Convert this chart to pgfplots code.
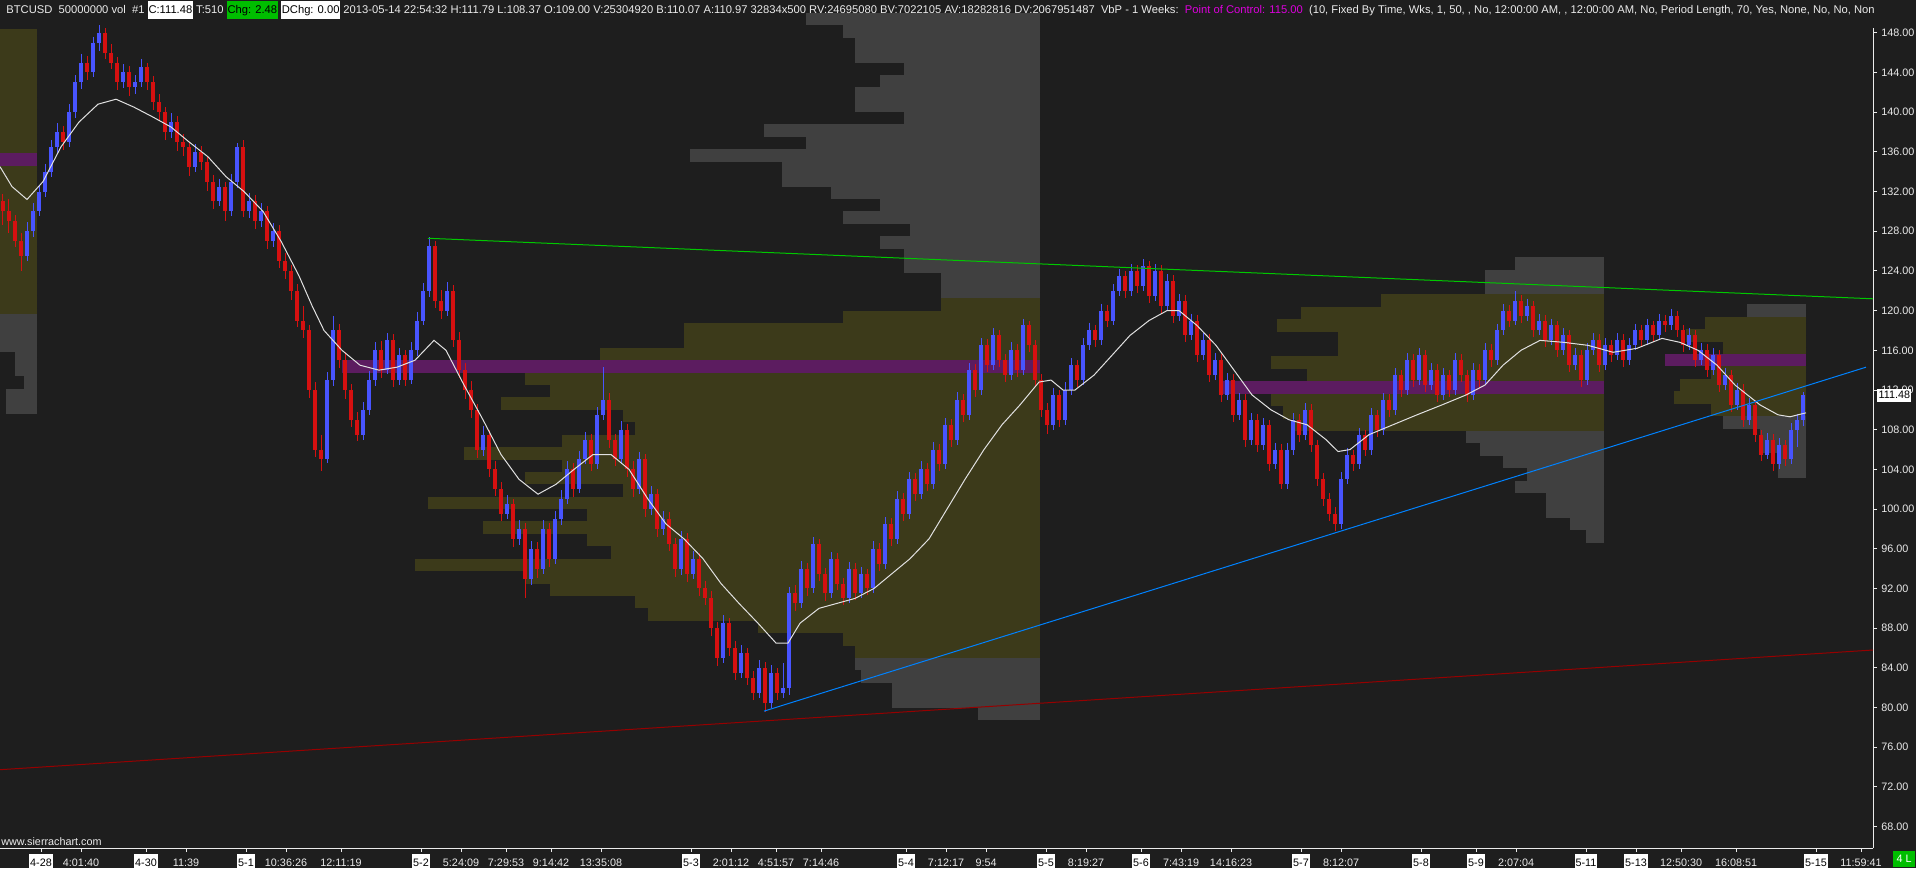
\documentclass[border=0pt]{standalone}
\usepackage{pgfplots}
\pgfplotsset{compat=1.18}
\usepackage{pgfplotstable}
\usepackage{fontspec}
\setmainfont{Liberation Sans}

\definecolor{bg}{RGB}{30,30,30}
\definecolor{vpgray}{RGB}{64,64,64}
\definecolor{vpolive}{RGB}{60,58,26}
\definecolor{vppoc}{RGB}{92,28,96}
\definecolor{candleup}{RGB}{72,84,255}
\definecolor{candledn}{RGB}{214,16,16}
\definecolor{trendgreen}{RGB}{0,200,0}
\definecolor{trendblue}{RGB}{0,130,255}
\definecolor{trendred}{RGB}{150,0,0}
\definecolor{txt}{RGB}{235,235,235}
\definecolor{poctxt}{RGB}{220,0,220}
\definecolor{chggreen}{RGB}{0,190,0}

% white box for dates on the time axis, boxes in the header line
\newcommand{\db}[1]{{\setlength{\fboxsep}{0.5pt}\colorbox{white}{\color{black}\rule[-1.6pt]{0pt}{7.2pt}#1}}}
\newcommand{\hb}[3]{{\setlength{\fboxsep}{0.4pt}\colorbox{#1}{\color{#2}\rule[-2.3pt]{0pt}{8.2pt}#3}}}

% error bars only, no marks at the data points
\pgfplotsset{bars only/.style={only marks, mark=*, mark size=0pt,
  mark options={draw=none, fill=none}}}

% bars: index, open, high, low, close  (x pixel = 3+6*i)
\pgfplotstableread{
i o h l c
0 131 131.8 128.6 130
1 130 131.2 127.8 129
2 129 129.6 126.4 127
3 127 127.8 124 125.5
4 125.5 128.9 125 128
5 128 130.8 127.4 130
6 130 132.6 129.5 132
7 132 134.8 131.4 134
8 134 137.2 133.5 136.5
9 136.5 138.9 135.8 138
10 138 138.6 136.2 137
11 137 140.8 136.5 140
12 140 143.7 139.4 143
13 143 145.9 142.3 145
14 145 145.7 143.2 144
15 144 147.6 143.5 147
16 147 148.8 146.2 148
17 148 148.5 145.4 146
18 146 146.9 144.3 145
19 145 145.6 142.2 143
20 143 144.8 142.4 144
21 144 144.6 141.6 142.5
22 142.5 143.7 141.8 143
23 143 145.4 142.5 144.5
24 144.5 145 142.2 143
25 143 143.6 140.2 141
26 141 141.8 139.1 140
27 140 140.5 137.2 138
28 138 139.9 137.4 139
29 139 139.6 136.1 137
30 137 137.8 135.6 136.5
31 136.5 137 133.6 134.5
32 134.5 136.8 134 136
33 136 136.6 134.2 135
34 135 135.5 132.1 133
35 133 133.7 130.2 131
36 131 133.3 130.5 132.5
37 132.5 133 129 130
38 130 133.8 129.5 133
39 133 136.9 132.4 136.5
40 136.5 137.2 129.4 130
41 130 131.9 129.3 131
42 131 131.6 128.2 129
43 129 130.8 128.4 130
44 130 130.5 126.2 127
45 127 128.8 126.4 128
46 128 128.6 124.3 125
47 125 125.8 123.2 124
48 124 124.6 121.1 122
49 122 122.7 118.3 119
50 119 120.5 117.2 118
51 118 118.6 111.2 112
52 112 112.8 105.2 106
53 106 107.5 103.8 105
54 105 113.8 104.6 113
55 113 119.5 112.4 118
56 118 118.7 114.2 115
57 115 115.8 111.1 112
58 112 112.6 108.3 109
59 109 109.8 106.9 107.5
60 107.5 110.8 107 110
61 110 113.9 109.5 113
62 113 116.8 112.4 116
63 116 116.9 113.2 114
64 114 117.7 113.6 117
65 117 117.6 112.3 113
66 113 116.2 112.5 115.5
67 115.5 116 112.4 113
68 113 116.8 112.6 116
69 116 119.9 115.4 119
70 119 122.8 118.5 122
71 122 127.4 121.4 126.5
72 126.5 127 120.3 121
73 121 122.1 119.2 120
74 120 122.9 119.5 122
75 122 122.6 116.3 117
76 117 117.8 113.2 114
77 114 114.7 111.1 112
78 112 112.9 109.2 110
79 110 110.6 105.1 106
80 106 108.4 105.4 107.5
81 107.5 108 103.2 104
82 104 104.8 101.3 102
83 102 102.7 98.8 99.5
84 99.5 101.4 99 100.5
85 100.5 101 96.2 97
86 97 98.9 96.4 98
87 98 98.6 91 93
88 93 96.8 92.4 96
89 96 96.7 93.1 94
90 94 98.9 93.5 98
91 98 98.6 94.2 95
92 95 99.8 94.5 99
93 99 101.9 98.4 101
94 101 104.8 100.5 104
95 104 104.6 101.2 102
96 102 105.9 101.6 105
97 105 107.8 104.5 107
98 107 107.6 103.8 104.5
99 104.5 110.3 104 109.5
100 109.5 114.3 109 111
101 111 111.7 106.2 107
102 107 107.6 104.3 105
103 105 108.9 104.5 108
104 108 108.6 103.2 104
105 104 104.8 101.2 102
106 102 105.8 101.5 105
107 105 105.6 99.2 100
108 100 102.3 99.4 101.5
109 101.5 102 97.2 98
110 98 99.8 97.4 99
111 99 99.7 95.8 96.5
112 96.5 97.1 93.2 94
113 94 97.8 93.4 97
114 97 97.6 92.7 93.5
115 93.5 95.8 93 95
116 95 95.6 91.2 92
117 92 92.8 90.3 91
118 91 91.7 87.2 88
119 88 88.6 84.2 85
120 85 89.3 84.5 88.5
121 88.5 89 85.2 86
122 86 86.7 82.8 83.5
123 83.5 86.3 83 85.5
124 85.5 86 82.3 83
125 83 83.7 80.8 81.5
126 81.5 84.8 81 84
127 84 84.6 79.6 80.5
128 80.5 84.3 80 83.5
129 83.5 84 80.8 81.5
130 81.5 84.5 81 82
131 82 92.2 81.3 91.5
132 91.5 92.4 89.7 90.5
133 90.5 94.8 90 94
134 94 94.6 91.2 92
135 92 97.2 91.5 96.5
136 96.5 97 92.8 93.5
137 93.5 94.1 90.7 91.5
138 91.5 95.7 91 95
139 95 95.6 91.8 92.5
140 92.5 93.1 90.3 91
141 91 94.7 90.5 94
142 94 94.6 90.8 91.5
143 91.5 94.2 91 93.5
144 93.5 94 91.3 92
145 92 96.8 91.5 96
146 96 96.6 93.8 94.5
147 94.5 99.2 94 98.5
148 98.5 99.1 96.3 97
149 97 101.8 96.5 101
150 101 101.6 98.8 99.5
151 99.5 103.7 99 103
152 103 103.6 100.8 101.5
153 101.5 104.8 101 104
154 104 104.6 101.8 102.5
155 102.5 106.8 102 106
156 106 106.6 103.8 104.5
157 104.5 109.2 104 108.5
158 108.5 109.1 106.3 107
159 107 111.8 106.5 111
160 111 111.6 108.8 109.5
161 109.5 114.7 109 114
162 114 114.6 111.3 112
163 112 117.2 111.5 116.5
164 116.5 117.1 113.8 114.5
165 114.5 118.2 114 117.5
166 117.5 118 114.3 115
167 115 115.6 112.8 113.5
168 113.5 116.8 113 116
169 116 116.6 113.3 114
170 114 119.2 113.5 118.5
171 118.5 119 115.8 116.5
172 116.5 117 112.3 113
173 113 113.6 109.3 110
174 110 110.7 107.6 108.5
175 108.5 112.2 108 111.5
176 111.5 112 108.3 109
177 109 112.8 108.5 112
178 112 115.2 111.5 114.5
179 114.5 115 112.3 113
180 113 117.2 112.5 116.5
181 116.5 118.8 116 118
182 118 118.6 116.3 117
183 117 120.7 116.5 120
184 120 120.6 118.3 119
185 119 122.7 118.5 122
186 122 124.2 121.5 123.5
187 123.5 124 121.3 122
188 122 124.7 121.5 124
189 124 124.6 121.8 122.5
190 122.5 125.2 122 124.5
191 124.5 125 120.8 121.5
192 121.5 124.7 121 124
193 124 124.6 119.8 120.5
194 120.5 123.7 120 123
195 123 123.6 118.8 119.5
196 119.5 121.7 119 121
197 121 121.6 116.8 117.5
198 117.5 119.7 117 119
199 119 119.6 114.8 115.5
200 115.5 117.7 115 117
201 117 117.6 112.8 113.5
202 113.5 115.7 113 115
203 115 115.6 110.8 111.5
204 111.5 113.7 111 113
205 113 113.6 108.8 109.5
206 109.5 111.7 109 111
207 111 111.6 106.3 107
208 107 109.7 106.5 109
209 109 109.6 105.8 106.5
210 106.5 109.2 106 108.5
211 108.5 109 103.8 104.5
212 104.5 106.7 104 106
213 106 106.6 102 102.5
214 102.5 106.7 102 106
215 106 109.7 105.5 109
216 109 109.6 106.8 107.5
217 107.5 110.7 107 110
218 110 110.6 105.8 106.5
219 106.5 107 102.3 103
220 103 103.6 100.3 101
221 101 101.6 98.8 99.5
222 99.5 100.2 97.8 98.5
223 98.5 103.7 98 103
224 103 106.2 102.5 105.5
225 105.5 106 103.8 104.5
226 104.5 108.2 104 107.5
227 107.5 108 105.3 106
228 106 110.2 105.5 109.5
229 109.5 110 107.3 108
230 108 111.7 107.5 111
231 111 111.6 109.3 110
232 110 114.2 109.5 113.5
233 113.5 114 111.3 112
234 112 115.7 111.5 115
235 115 115.6 112.3 113
236 113 116.2 112.5 115.5
237 115.5 116 111.8 112.5
238 112.5 114.7 112 114
239 114 114.6 110.8 111.5
240 111.5 114.2 111 113.5
241 113.5 114 111.3 112
242 112 115.7 111.5 115
243 115 115.6 112.8 113.5
244 113.5 114 110.8 111.5
245 111.5 114.7 111 114
246 114 114.6 112.3 113
247 113 116.7 112.5 116
248 116 116.6 114.3 115
249 115 118.7 114.5 118
250 118 120.7 117.5 120
251 120 120.6 118.3 119
252 119 122 118.5 121
253 121 121.6 118.8 119.5
254 119.5 121.2 119 120.5
255 120.5 121 117.3 118
256 118 119.7 117.5 119
257 119 119.6 116.3 117
258 117 119.2 116.5 118.5
259 118.5 119 115.3 116
260 116 118.2 115.5 117.5
261 117.5 118 113.8 114.5
262 114.5 116.2 114 115.5
263 115.5 116 112.3 113
264 113 116.7 112.5 116
265 116 117.7 115.5 117
266 117 117.6 113.8 114.5
267 114.5 117.2 114 116.5
268 116.5 117 114.8 115.5
269 115.5 117.7 115 117
270 117 117.6 114.3 115
271 115 117.2 114.5 116.5
272 116.5 118.7 116 118
273 118 118.6 116.3 117
274 117 119.2 116.5 118.5
275 118.5 119 116.8 117.5
276 117.5 119.7 117 119
277 119 119.6 117.8 118.5
278 118.5 120.2 118 119.5
279 119.5 120 117.3 118
280 118 118.6 115.8 116.5
281 116.5 118.2 116 117.5
282 117.5 118 114.3 115
283 115 116.7 114.5 116
284 116 116.6 113.3 114
285 114 116.2 113.5 115.5
286 115.5 116 111.8 112.5
287 112.5 114.2 112 113.5
288 113.5 114 109.8 110.5
289 110.5 112.7 110 112
290 112 112.6 108.3 109
291 109 111.2 108.5 110.5
292 110.5 111 106.8 107.5
293 107.5 108 104.8 105.5
294 105.5 107.7 105 107
295 107 107.6 103.8 104.5
296 104.5 107.2 104 106.5
297 106.5 107 104.3 105
298 105 108.7 104.5 108
299 108 109.6 106.3 109
300 109 111.79 108.37 111.48
}\candles

% volume profile rows: price centre, left edge, right edge (pixels)
\pgfplotstableread{
p L R
119.0 -50 37
117.75 -50 37
116.5 -50 37
115.25 15 37
114.0 15 37
112.75 24 37
111.5 6 37
110.25 6 37
149.375 806 1040
148.125 843 1040
146.875 855 1040
145.625 855 1040
144.375 904 1040
143.125 880 1040
141.875 855 1040
140.625 855 1040
139.375 904 1040
138.125 764 1040
136.875 806 1040
135.625 690 1040
134.375 782 1040
133.125 782 1040
131.875 831 1040
130.625 880 1040
129.375 843 1040
128.125 910 1040
126.875 880 1040
125.625 904 1040
124.375 904 1040
123.125 941 1040
121.875 941 1040
84.375 855 1040
83.125 861 1040
81.875 892 1040
80.625 892 1040
79.375 978 1040
124.75 1515 1604
123.5 1485 1604
122.25 1485 1604
107.25 1466 1604
106.0 1480 1604
104.75 1503 1604
103.5 1527 1604
102.25 1515 1604
101.0 1546 1604
99.75 1546 1604
98.5 1570 1604
97.25 1586 1604
120.0 1747 1806
108.75 1723 1806
107.5 1760 1806
106.25 1760 1806
105.0 1778 1806
103.75 1778 1806
}\vpgrayrows

\pgfplotstableread{
p L R
120.25 -50 37
121.5 -50 37
122.75 -50 37
124.0 -50 37
125.25 -50 37
126.5 -50 37
127.75 -50 37
129.0 -50 37
130.25 -50 37
131.5 -50 37
132.75 -50 37
134.0 -50 37
136.5 -50 37
137.75 -50 37
139.0 -50 37
140.25 -50 37
141.5 -50 37
142.75 -50 37
144.0 -50 37
145.25 -50 37
146.5 -50 37
147.75 -50 37
120.625 941 1040
119.375 843 1040
118.125 684 1040
116.875 684 1040
115.625 600 1040
113.125 525 1040
111.875 550 1040
110.625 501 1040
109.375 623 1040
108.125 635 1040
106.875 562 1040
105.625 464 1040
104.375 562 1040
103.125 525 1040
101.875 623 1040
100.625 428 1040
99.375 587 1040
98.125 483 1040
96.875 587 1040
95.625 611 1040
94.375 415 1040
93.125 525 1040
91.875 550 1040
90.625 635 1040
89.375 648 1040
88.125 758 1040
86.875 843 1040
85.625 855 1040
121.0 1381 1604
119.75 1301 1604
118.5 1277 1604
117.25 1338 1604
116.0 1338 1604
114.75 1271 1604
113.5 1307 1604
111.0 1271 1604
109.75 1283 1604
108.5 1295 1604
118.75 1705 1806
117.5 1686 1806
116.25 1723 1806
113.75 1711 1806
112.5 1680 1806
111.25 1674 1806
110.0 1711 1806
}\vpolivrows

\pgfplotstableread{
p L R
135.25 -50 37
114.375 342 1040
112.25 1222 1604
115.0 1665 1806
}\vppocrows

\begin{document}
\begin{tikzpicture}[font=\fontsize{5.4}{6.5}\selectfont]
\useasboundingbox (0,0) rectangle (958pt,434pt);
\fill[bg] (0,0) rectangle (958pt,434pt);
\begin{axis}[
  at={(0pt,10pt)}, anchor=south west,
  width=936.5pt, height=424pt, scale only axis,
  xmin=0, xmax=1873, ymin=65.85, ymax=151.3,
  axis x line=bottom, axis y line=right,
  axis line style={-, txt, line width=0.5pt},
  y axis line style={shorten >=14pt},
  tick align=outside, major tick length=2pt,
  tick style={txt, line width=0.5pt},
  xtick={41,81,146,186,246,286,341,421,461,506,551,601,691,731,776,821,906,946,986,1046,1086,1141,1181,1231,1301,1341,1421,1476,1516,1586,1636,1681,1736,1816,1861},
  xticklabels={\db{4-28},4:01:40,\db{4-30},11:39,\db{5-1},10:36:26,12:11:19,\db{5-2},5:24:09,7:29:53,9:14:42,13:35:08,\db{5-3},2:01:12,4:51:57,7:14:46,\db{5-4},7:12:17,9:54,\db{5-5},8:19:27,\db{5-6},7:43:19,14:16:23,\db{5-7},8:12:07,\db{5-8},\db{5-9},2:07:04,\db{5-11},\db{5-13},12:50:30,16:08:51,\db{5-15},11:59:41},
  ytick={68,72,...,148},
  tick label style={text=txt, font=\fontsize{5.4}{6.5}\selectfont},
  xticklabel style={anchor=base, inner sep=0pt, yshift=-7.3pt},
  yticklabel style={anchor=west, inner sep=0pt, xshift=2pt},
  /pgf/number format/fixed,
  /pgf/number format/fixed zerofill,
  /pgf/number format/precision=2,
  /pgf/number format/assume math mode=true,
]

% volume by price
\addplot[bars only, error bars/.cd, x dir=minus, x explicit, error mark=none,
  error bar style={vpgray, line width=6.25pt}]
  table[x=R, y=p, x error expr=\thisrow{R}-\thisrow{L}] {\vpgrayrows};
\addplot[bars only, error bars/.cd, x dir=minus, x explicit, error mark=none,
  error bar style={vpolive, line width=6.25pt}]
  table[x=R, y=p, x error expr=\thisrow{R}-\thisrow{L}] {\vpolivrows};
\addplot[bars only, error bars/.cd, x dir=minus, x explicit, error mark=none,
  error bar style={vppoc, line width=6.25pt}]
  table[x=R, y=p, x error expr=\thisrow{R}-\thisrow{L}] {\vppocrows};

% wicks
\addplot[bars only, restrict expr to domain={\thisrow{c}-\thisrow{o}}{0:1000},
  error bars/.cd, y dir=minus, y explicit, error mark=none,
  error bar style={candleup, line width=0.5pt}]
  table[x expr=3+6*\thisrow{i}, y=h, y error expr=\thisrow{h}-\thisrow{l}] {\candles};
\addplot[bars only, restrict expr to domain={\thisrow{c}-\thisrow{o}}{-1000:-0.001},
  error bars/.cd, y dir=minus, y explicit, error mark=none,
  error bar style={candledn, line width=0.5pt}]
  table[x expr=3+6*\thisrow{i}, y=h, y error expr=\thisrow{h}-\thisrow{l}] {\candles};
% bodies
\addplot[bars only, restrict expr to domain={\thisrow{c}-\thisrow{o}}{0:1000},
  error bars/.cd, y dir=minus, y explicit, error mark=none,
  error bar style={candleup, line width=1.75pt}]
  table[x expr=3+6*\thisrow{i}, y=c, y error expr=\thisrow{c}-\thisrow{o}] {\candles};
\addplot[bars only, restrict expr to domain={\thisrow{c}-\thisrow{o}}{-1000:-0.001},
  error bars/.cd, y dir=minus, y explicit, error mark=none,
  error bar style={candledn, line width=1.75pt}]
  table[x expr=3+6*\thisrow{i}, y=o, y error expr=\thisrow{o}-\thisrow{c}] {\candles};

% moving average
\addplot[color={rgb,255:red,225;green,225;blue,225}, line width=0.5pt] coordinates {
(0,134.5)(12,132.5)(27,131.2)(43,133)(61,136.5)(79,139)(98,140.8)(116,141.3)(134,140.5)
(153,139.5)(171,138.5)(189,137)(208,135.5)(226,133.5)(244,132)(263,130)(281,127)(299,123.5)
(312,120.5)(324,118)(342,116)(360,114.5)(379,114)(397,114.3)(415,115)(434,117)(446,116)
(464,112.5)(483,109)(501,105.5)(519,103)(538,101.5)(556,102.5)(574,104)(593,105.5)(611,105.5)
(629,104)(648,101)(666,98.5)(684,97)(703,95)(721,92.5)(739,90.5)(758,88.5)(776,86.5)(788,86.5)
(800,88.5)(819,90)(837,90.5)(855,91)(874,92)(892,93.5)(910,95)(929,97)(947,100)(965,103)
(984,106)(1002,108.5)(1020,110.5)(1039,112.8)(1051,113)(1063,112)(1075,112)(1094,113.5)
(1112,115.5)(1130,117.5)(1149,119)(1167,120)(1179,120)(1197,118.5)(1216,116.5)(1234,114)
(1252,111.5)(1271,110)(1289,109)(1307,108.5)(1326,107)(1338,105.8)(1350,106)(1369,107.5)
(1393,108.5)(1417,109.5)(1442,110.5)(1466,111.5)(1485,112.5)(1503,114.5)(1521,116)(1540,117)
(1564,116.8)(1588,116.5)(1613,115.8)(1637,116.2)(1662,117.2)(1680,116.8)(1698,116)(1717,114.5)
(1735,112.5)(1760,110.5)(1778,109.5)(1790,109.3)(1806,109.7)};

% trend lines
\addplot[trendgreen, line width=0.5pt] coordinates {(428,127.29)(1873,121.19)};
\addplot[trendblue, line width=0.5pt] coordinates {(764,79.64)(1866,114.3)};
\addplot[trendred, line width=0.5pt] coordinates {(0,73.74)(1873,85.8)};

\coordinate (lastp) at (axis cs:1873,111.48);
\end{axis}

% last price box on the price scale
\node[fill=white, text=black, anchor=west, inner xsep=0.6pt, inner ysep=0.5pt,
  text height=4.3pt, text depth=1.2pt] at ([xshift=2pt]lastp) {111.48};

% header line
\begin{scope}
\clip (0,420pt) rectangle (936.5pt,434pt);
\node[anchor=base west, inner sep=0pt, text=txt, font=\fontsize{5.6}{6.5}\selectfont] at (3pt,427.2pt) {BTCUSD\ \ 50000000 vol\ \ \#1\ \hb{white}{black}{C:111.48}\ T:510\ \hb{chggreen}{black}{Chg: 2.48}\ \hb{white}{black}{DChg: 0.00}\ 2013-05-14 22:54:32 H:111.79 L:108.37 O:109.00 V:25304920 B:110.07 A:110.97 32834x500 RV:24695080 BV:7022105 AV:18282816 DV:2067951487\ \ VbP - 1 Weeks:\ \ {\color{poctxt}Point of Control: 115.00}\ \ (10, Fixed By Time, Wks, 1, 50, , No, 12:00:00 AM, , 12:00:00 AM, No, Period Length, 70, Yes, None, No, No, None};
\end{scope}

\node[anchor=base west, inner sep=0pt, text=txt] at (0.5pt,11.5pt) {www.sierrachart.com};
\node[fill=chggreen, text=white, inner sep=0pt, minimum width=11pt, minimum height=8pt] at (952pt,4.5pt) {4 L};
\end{tikzpicture}
\end{document}
